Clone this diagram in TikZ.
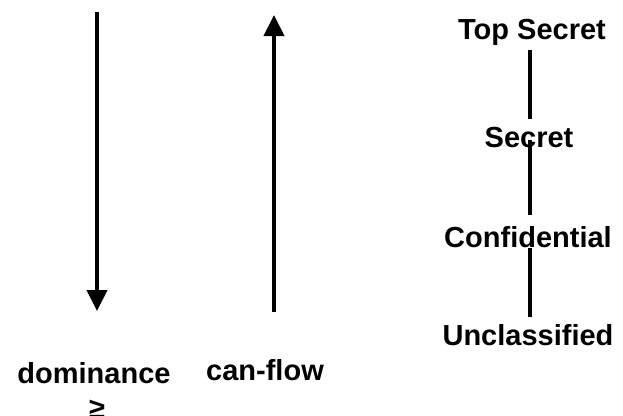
\documentclass[tikz,border=0pt]{standalone}
\usepackage{fontspec}
\setmainfont{Liberation Sans}
\usetikzlibrary{arrows.meta}
\begin{document}
\begin{tikzpicture}[x=1pt,y=-1pt,
  lbl/.style={font=\bfseries\fontsize{29}{32}\selectfont, inner sep=0pt},
  arr/.style={line width=4pt, -{Triangle[width=20pt,length=21pt]}},
  seg/.style={line width=4pt}]
\useasboundingbox (0,0) rectangle (623,415);
% arrows
\coordinate (d1) at (97,12);
\coordinate (d2) at (97,311);
\draw[arr] (d1) -- (d2);
\coordinate (c1) at (274,312);
\coordinate (c2) at (274,15);
\draw[arr] (c1) -- (c2);
% labels
\node[lbl] (dom) at (94,373) {dominance};
\node[lbl, anchor=base] (geq) at (97,418) {≥};
\node[lbl] (cf) at (265,370) {can-flow};
% lattice
\node[lbl] (ts) at (532,32) {Top Secret};
\node[lbl] (s) at (529,138) {Secret};
\node[lbl] (c) at (528,237) {Confidential};
\node[lbl] (u) at (528,335) {Unclassified};
\coordinate (a1) at (530,50);  \coordinate (a2) at (530,119);
\coordinate (b1) at (530,140); \coordinate (b2) at (530,215);
\coordinate (e1) at (530,248); \coordinate (e2) at (530,317);
\draw[seg] (a1) -- (a2);
\draw[seg] (b1) -- (b2);
\draw[seg] (e1) -- (e2);
\end{tikzpicture}
\end{document}
